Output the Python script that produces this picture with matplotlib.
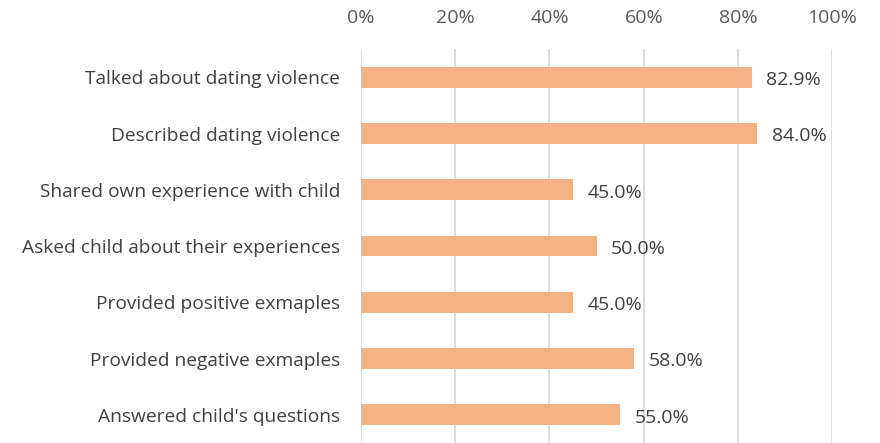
import matplotlib
matplotlib.use("Agg")
import matplotlib.pyplot as plt
from matplotlib.ticker import MultipleLocator, FuncFormatter

BAR_C  = "#F4B183"
GRID   = "#D9D9D9"
TEXT   = "#404040"
TICK_C = "#595959"

categories = [
    "Talked about dating violence",
    "Described dating violence",
    "Shared own experience with child",
    "Asked child about their experiences",
    "Provided positive exmaples",
    "Provided negative exmaples",
    "Answered child's questions",
]
values = [82.9, 84.0, 45.0, 50.0, 45.0, 58.0, 55.0]

plt.rcParams["font.family"] = ["Open Sans", "DejaVu Sans"]

fig = plt.figure(figsize=(8.8, 4.43), dpi=100)
ax = fig.add_axes([0.41, 0.0, 0.536, 0.889])

pos = list(range(len(categories)))
ax.barh(pos, values, height=0.37, color=BAR_C, zorder=3)
ax.set_ylim(len(categories) - 0.5, -0.5)
ax.set_xlim(0, 100)

# value labels to the right of each bar
for y, v in zip(pos, values):
    ax.annotate(f"{v:.1f}%", xy=(v, y), xytext=(10.5, -2),
                textcoords="offset points", ha="left", va="center",
                fontsize=14, color=TEXT)

ax.xaxis.set_major_locator(MultipleLocator(20))
ax.xaxis.set_major_formatter(FuncFormatter(lambda x, _: f"{x:.0f}%"))
ax.xaxis.tick_top()
ax.tick_params(axis="x", length=0, pad=16, labelsize=14, labelcolor=TICK_C)
ax.set_yticks(pos)
ax.set_yticklabels(categories)
ax.tick_params(axis="y", length=0, pad=15, labelsize=13.8, labelcolor=TEXT)

ax.grid(axis="x", color=GRID, linewidth=1.3, zorder=0)
for spine in ax.spines.values():
    spine.set_visible(False)

fig.savefig("out.png", dpi=100, facecolor="white")
plt.close(fig)
